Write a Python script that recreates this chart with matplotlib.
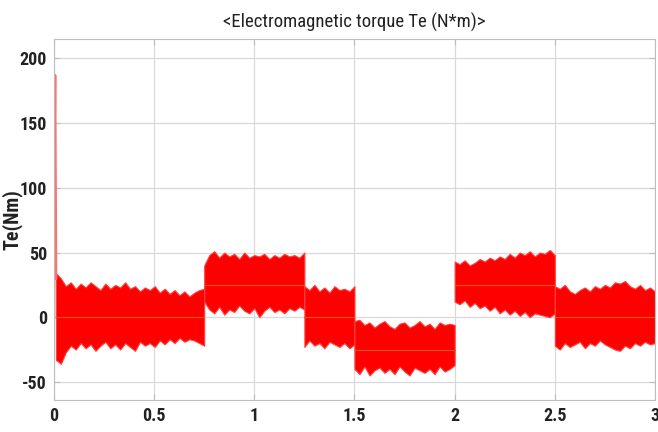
import matplotlib
matplotlib.use('Agg')
import matplotlib.pyplot as plt
from matplotlib import font_manager
import numpy as np

# prefer a narrow sans face if one is installed
names = {f.name for f in font_manager.fontManager.ttflist}
narrow = [n for n in ['Liberation Sans Narrow', 'DejaVu Sans Condensed', 'Roboto Condensed',
                      'Open Sans Condensed'] if n in names]
plt.rcParams['font.family'] = narrow + ['Liberation Sans', 'DejaVu Sans']
plt.rcParams['axes.unicode_minus'] = False

# start-up transient
t_start = [0.0, 0.003, 0.005, 0.007, 0.010]
te_start = [0.0, 150.0, 187.0, 120.0, 30.0]

# torque band per load step: time, upper and lower envelope (N*m)
t1 = np.linspace(0.01, 0.75, 31)
up1 = [34, 30, 24, 27, 22, 26, 23, 27, 24, 21, 26, 22, 25, 23, 27, 22,
       24, 20, 23, 21, 24, 19, 22, 18, 21, 17, 20, 16, 19, 21, 22]
lo1 = [-33, -36, -27, -22, -25, -20, -24, -21, -26, -22, -19, -24, -21, -25, -20, -23,
       -26, -19, -22, -20, -23, -18, -21, -17, -20, -16, -19, -17, -18, -20, -22]

t2 = np.linspace(0.75, 1.25, 21)
up2 = [40, 48, 51, 46, 50, 47, 49, 45, 50, 46, 48, 47, 49, 45, 48, 46, 49, 47, 48, 46, 50]
lo2 = [12, 6, 3, 8, 2, 6, 4, 9, 5, 3, 7, 0, 5, 8, 4, 6, 3, 7, 5, 8, 6]

t3 = np.linspace(1.25, 1.5, 11)
up3 = [24, 21, 25, 20, 23, 19, 24, 21, 22, 20, 24]
lo3 = [-23, -18, -22, -20, -24, -19, -21, -23, -20, -24, -21]

t4 = np.linspace(1.5, 2.0, 21)
up4 = [-3, -2, -6, -4, -8, -5, -3, -7, -9, -5, -4, -8, -6, -3, -7, -5, -9, -4, -6, -5, -6]
lo4 = [-40, -44, -38, -45, -41, -39, -43, -40, -44, -38, -42, -45, -39, -41, -43, -40,
       -44, -38, -42, -40, -37]

t5 = np.linspace(2.0, 2.5, 21)
up5 = [43, 41, 44, 40, 42, 45, 43, 46, 44, 47, 45, 49, 46, 50, 48, 51, 47, 50, 49, 52, 48]
lo5 = [12, 10, 13, 8, 11, 7, 9, 5, 8, 3, 6, 2, 5, 1, 4, 0, 3, 2, 1, 0, 3]

t6 = np.linspace(2.5, 3.0, 21)
up6 = [24, 22, 25, 20, 18, 21, 23, 20, 24, 22, 25, 23, 27, 26, 28, 24, 22, 25, 21, 23, 20]
lo6 = [-22, -25, -20, -23, -21, -19, -24, -20, -22, -18, -21, -23, -25, -26, -22, -24,
       -20, -22, -19, -21, -20]

# mean torque of each step
step_t = [0.01, 0.75, 1.25, 1.5, 2.0, 2.5, 3.0]
step_te = [0, 25, 0, -25, 25, 0]

fig = plt.figure(figsize=(6.58, 4.32), dpi=100)
ax = fig.add_axes([0.082, 0.074, 0.9134, 0.8357])

ax.plot(t_start, te_start, color='#ff7070', lw=2.0)
for t, up, lo in [(t1, up1, lo1), (t2, up2, lo2), (t3, up3, lo3),
                  (t4, up4, lo4), (t5, up5, lo5), (t6, up6, lo6)]:
    ax.fill_between(t, lo, up, color='#ff0000', lw=0.8, edgecolor='#ff4040')

for i in range(len(step_te)):
    ax.plot([step_t[i], step_t[i + 1]], [step_te[i], step_te[i]], color='#e0551c', lw=0.8)

ax.set_xlim(0, 3)
ax.set_ylim(-64, 215)
ax.set_xticks([0, 0.5, 1, 1.5, 2, 2.5, 3])
ax.set_xticklabels(['0', '0.5', '1', '1.5', '2', '2.5', '3'])
ax.set_yticks([-50, 0, 50, 100, 150, 200])
ax.grid(True, color='#d9d9d9', lw=0.9)
ax.set_axisbelow(True)
for s in ax.spines.values():
    s.set_color('#bdbdbd')
ax.tick_params(direction='in', top=True, right=True, color='#bdbdbd', length=4,
               labelsize=13, labelcolor='#222222', pad=5)
for lab in ax.get_xticklabels() + ax.get_yticklabels():
    lab.set_fontweight('bold')

ax.set_title('<Electromagnetic torque Te (N*m)>', fontsize=13.5, color='#222222', pad=8)
ax.set_ylabel('Te(Nm)', fontsize=14.5, fontweight='bold', color='#222222')
ax.yaxis.set_label_coords(-0.052, 0.5)

fig.savefig('out.png', dpi=100)
